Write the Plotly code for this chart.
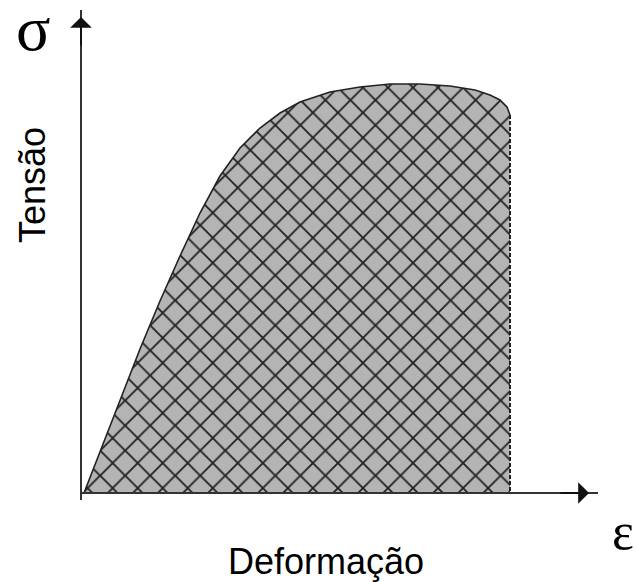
"""Diagrama tensão x deformação com a área sob a curva hachurada."""

import plotly.graph_objects as go

# Curva tensão-deformação (unidades arbitrárias)
deformacao = [0.0, 0.16, 0.36, 0.56, 0.76, 0.96, 1.16, 1.36, 1.56, 1.76, 1.96,
              2.16, 2.46, 2.76, 3.06, 3.36, 3.66, 3.91, 4.06, 4.16, 4.23, 4.26]
tensao = [0.0, 0.41, 0.93, 1.44, 1.92, 2.37, 2.80, 3.17, 3.45, 3.65, 3.80,
          3.91, 4.01, 4.06, 4.09, 4.09, 4.07, 4.03, 3.98, 3.93, 3.86, 3.78]

rotulo_x = "Deformação"
rotulo_y = "Tensão"
simbolo_x = "ε"
simbolo_y = "σ"

W, H = 637, 582
X_RANGE = [-0.84, 5.53]
Y_RANGE = [-0.89, 4.93]
COR_EIXO = "#333333"


def px(x):
    return x / W


def py(y):
    return 1 - y / H


fig = go.Figure()

# área sob a curva (hachura cruzada sobre fundo cinza)
x_fim = deformacao[-1]
fig.add_trace(
    go.Scatter(
        x=deformacao + [x_fim, 0.0],
        y=tensao + [0.0, 0.0],
        mode="lines",
        fill="toself",
        fillcolor="#b4b4b4",
        fillpattern=dict(
            shape="x",
            size=17.7,
            solidity=0.2,
            bgcolor="#b4b4b4",
            fgcolor="#222222",
            fillmode="replace",
        ),
        line=dict(width=0),
        hoverinfo="skip",
    )
)

# contorno da curva
fig.add_trace(
    go.Scatter(
        x=deformacao,
        y=tensao,
        mode="lines",
        line=dict(color="#222222", width=1.6),
        hoverinfo="skip",
    )
)

# linha tracejada na ruptura
fig.add_trace(
    go.Scatter(
        x=[x_fim, x_fim],
        y=[tensao[-1], 0.0],
        mode="lines",
        line=dict(color="#222222", width=2, dash="4px,2px"),
        hoverinfo="skip",
    )
)

# eixos com setas
x0 = -0.03
x_fim_eixo, x_seta = 5.14, 5.05
y_fim_eixo, y_seta = 4.83, 4.76
fig.add_shape(type="line", x0=x0, y0=0, x1=x_fim_eixo, y1=0,
              line=dict(color=COR_EIXO, width=2))
fig.add_shape(type="line", x0=x0, y0=-0.07, x1=x0, y1=y_fim_eixo,
              line=dict(color=COR_EIXO, width=2))
fig.add_annotation(x=x_seta, y=0, ax=x_seta - 0.3, ay=0, xref="x", yref="y",
                   axref="x", ayref="y", text="", showarrow=True, arrowhead=1,
                   arrowsize=1.8, arrowwidth=2, arrowcolor="#111111")
fig.add_annotation(x=x0, y=y_seta, ax=x0, ay=y_seta - 0.3, xref="x", yref="y",
                   axref="x", ayref="y", text="", showarrow=True, arrowhead=1,
                   arrowsize=1.8, arrowwidth=2, arrowcolor="#111111")

# rótulos
fonte_txt = dict(family="Liberation Sans, Arial", size=36, color="#000000")
fonte_sim = dict(family="Liberation Serif, Times New Roman", size=64, color="#000000")
fig.add_annotation(x=px(326), y=py(561), xref="paper", yref="paper",
                   text=rotulo_x, showarrow=False, font=fonte_txt,
                   xanchor="center", yanchor="middle")
fig.add_annotation(x=px(32), y=py(185), xref="paper", yref="paper",
                   text=rotulo_y, showarrow=False, font=fonte_txt, textangle=-90,
                   xanchor="center", yanchor="middle")
fig.add_annotation(x=px(33), y=py(28), xref="paper", yref="paper",
                   text=simbolo_y, showarrow=False, font=fonte_sim,
                   xanchor="center", yanchor="middle")
fig.add_annotation(x=px(623), y=py(531), xref="paper", yref="paper",
                   text=simbolo_x, showarrow=False,
                   font=dict(fonte_sim, size=52),
                   xanchor="center", yanchor="middle")

fig.update_layout(
    width=W,
    height=H,
    margin=dict(l=0, r=0, t=0, b=0),
    paper_bgcolor="white",
    plot_bgcolor="white",
    showlegend=False,
    xaxis=dict(visible=False, range=X_RANGE, fixedrange=True),
    yaxis=dict(visible=False, range=Y_RANGE, fixedrange=True),
)

# sem margem da página, para a figura ocupar a janela toda
fig.write_html(
    "out.html",
    config={"displayModeBar": False},
    post_script="document.body.style.margin='0';"
    "document.body.style.overflow='hidden';",
)
